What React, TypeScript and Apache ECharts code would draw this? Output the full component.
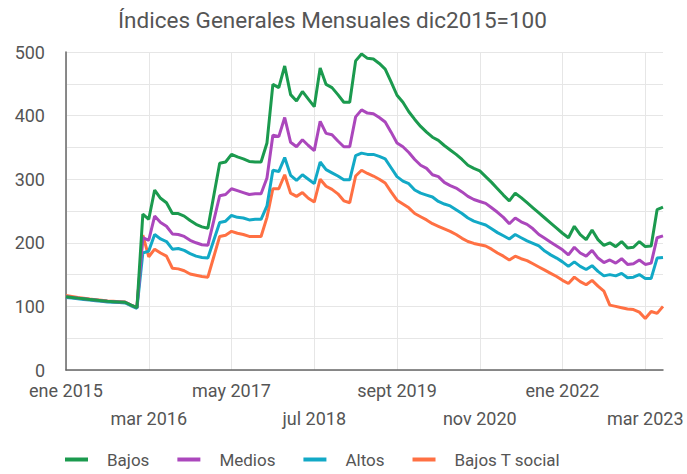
import React, { useEffect, useRef } from "react";
import * as echarts from "echarts";

const monthNames = ["ene", "feb", "mar", "abr", "may", "jun", "jul", "ago", "sept", "oct", "nov", "dic"];
const startYear = 2015;
const pointCount = 102;
const categories: string[] = [];
for (let i = 0; i < pointCount; i++) {
  categories.push(monthNames[i % 12] + " " + (startYear + Math.floor(i / 12)));
}

const seriesNames = ["Bajos", "Medios", "Altos", "Bajos T social"];
const seriesColors = ["#1b9a4e", "#ab47bc", "#12a9c6", "#ff7043"];

const bajos = [
  115, 114, 113, 112, 111, 110, 109, 108, 107.5, 107, 106.5, 102, 98,
  245, 237, 283, 270, 263, 246, 246, 242, 235, 229, 225, 223, 274,
  325, 327, 339, 335, 332, 328, 327, 327, 357,
  449, 444, 478, 433, 423, 438, 426, 414, 475, 449, 444, 433, 421, 421, 486, 497,
  490, 489, 482, 473, 453, 432, 421, 406, 394, 383, 374, 366, 361,
  353, 346, 339, 331, 322, 317, 313, 304, 295, 285, 275, 266,
  278, 271, 263, 255, 247, 239, 231, 223, 215,
  208, 226, 213, 205, 220, 205, 196, 200, 194, 202, 192, 193, 202, 194, 195, 252, 256,
];
const medios = [
  115, 114, 113, 112, 111, 110, 109, 108, 107.5, 107, 106.5, 102, 98,
  208, 204, 242, 232, 226, 214, 213, 210, 204, 200, 197, 196, 235,
  274, 276, 285, 282, 279, 276, 277, 277, 302,
  369, 367, 397, 358, 351, 362, 353, 345, 391, 372, 370, 360, 351, 351, 398, 409,
  404, 403, 397, 390, 374, 357, 351, 342, 331, 322, 317, 307, 304,
  295, 290, 286, 280, 273, 268, 265, 262, 255, 248, 240, 230,
  239, 233, 229, 222, 213, 207, 201, 195, 189,
  181, 193, 184, 179, 188, 176, 169, 173, 168, 175, 166, 167, 173, 166, 168, 208, 211,
];
const altos = [
  114, 113, 112, 111, 110, 109, 108, 107, 106.5, 106, 105.5, 101, 97,
  184, 187, 213, 206, 202, 190, 191, 188, 183, 179, 177, 176, 204,
  232, 234, 243, 240, 239, 236, 237, 237, 258,
  314, 312, 334, 306, 298, 307, 300, 293, 327, 315, 310, 305, 299, 299, 337, 341,
  339, 339, 336, 332, 318, 304, 297, 293, 283, 278, 275, 272, 265,
  261, 258, 252, 246, 239, 234, 231, 228, 222, 216, 211, 206,
  213, 208, 203, 199, 195, 187, 181, 176, 170,
  163, 170, 163, 158, 164, 155, 148, 150, 148, 152, 145, 146, 150, 144, 144, 176, 177,
];
const bajosTSocial = [
  117, 115.5, 114, 113, 111.5, 110.5, 109.5, 108.5, 108, 107.5, 107, 102, 98,
  212, 178, 190, 184, 179, 160, 159, 156, 151, 149, 147, 146, 178,
  210, 212, 218, 215, 213, 210, 210, 210, 240,
  285, 285, 307, 278, 273, 279, 270, 264, 300, 289, 284, 277, 266, 263, 305, 314,
  309, 305, 300, 294, 280, 267, 261, 255, 246, 241, 236, 230, 226,
  222, 218, 213, 207, 202, 199, 197, 195, 190, 184, 179, 173,
  179, 175, 172, 167, 162, 157, 152, 147, 141,
  136, 146, 139, 134, 141, 132, 124, 102, 100, 98, 96, 95, 91, 81, 92, 89, 100,
];
const seriesData = [bajos, medios, altos, bajosTSocial];

const labelEvery = 14;
const FONT = "Roboto, 'Noto Sans', sans-serif";

export default function App() {
  const ref = useRef<HTMLDivElement>(null);
  useEffect(() => {
    if (!ref.current) return;
    const chart = echarts.init(ref.current, null, { renderer: "svg" });
    chart.setOption({
      animation: false,
      backgroundColor: "#ffffff",
      title: {
        text: "Índices Generales Mensuales dic2015=100",
        left: 118,
        top: 8,
        padding: 0,
        textStyle: { fontFamily: FONT, fontSize: 22.5, fontWeight: "normal", color: "#555555" },
      },
      legend: {
        left: 65,
        top: 451,
        padding: 0,
        icon: "rect",
        itemWidth: 23,
        itemHeight: 4,
        itemGap: 28,
        data: seriesNames,
        textStyle: { fontFamily: FONT, fontSize: 17, color: "#555555", padding: [0, 0, 0, 14] },
      },
      grid: { left: 66, right: 24, top: 52, bottom: 104, containLabel: false },
      xAxis: {
        type: "category",
        data: categories,
        boundaryGap: false,
        axisLine: { show: true, lineStyle: { color: "#666666", width: 1.5 } },
        axisTick: { show: false },
        axisLabel: {
          interval: (idx: number) => idx % labelEvery === 0,
          formatter: (val: string, idx: number) => (idx % (labelEvery * 2) === 0 ? val : "\n" + val),
          fontFamily: FONT,
          fontSize: 18,
          color: "#555555",
          lineHeight: 28,
          margin: 6,
        },
        splitLine: {
          show: true,
          interval: (idx: number) => idx % labelEvery === 0,
          lineStyle: { color: "#e6e6e6", width: 1 },
        },
      },
      yAxis: {
        type: "value",
        min: 0,
        max: 500,
        interval: 50,
        axisLine: { show: true, lineStyle: { color: "#666666", width: 1.5 } },
        axisTick: { show: false },
        axisLabel: {
          formatter: (v: number) => (v % 100 === 0 ? String(v) : ""),
          fontFamily: FONT,
          fontSize: 18,
          color: "#555555",
          margin: 21,
        },
        splitLine: { show: true, lineStyle: { color: "#e6e6e6", width: 1 } },
      },
      series: seriesNames.map((name, k) => ({
        name,
        type: "line",
        data: seriesData[k],
        showSymbol: false,
        symbol: "none",
        lineStyle: { width: 3, color: seriesColors[k] },
        itemStyle: { color: seriesColors[k] },
        z: 10 - k,
      })),
    });
    return () => chart.dispose();
  }, []);
  return <div ref={ref} style={{ position: "fixed", left: 0, top: 0, width: 687, height: 474 }} />;
}
